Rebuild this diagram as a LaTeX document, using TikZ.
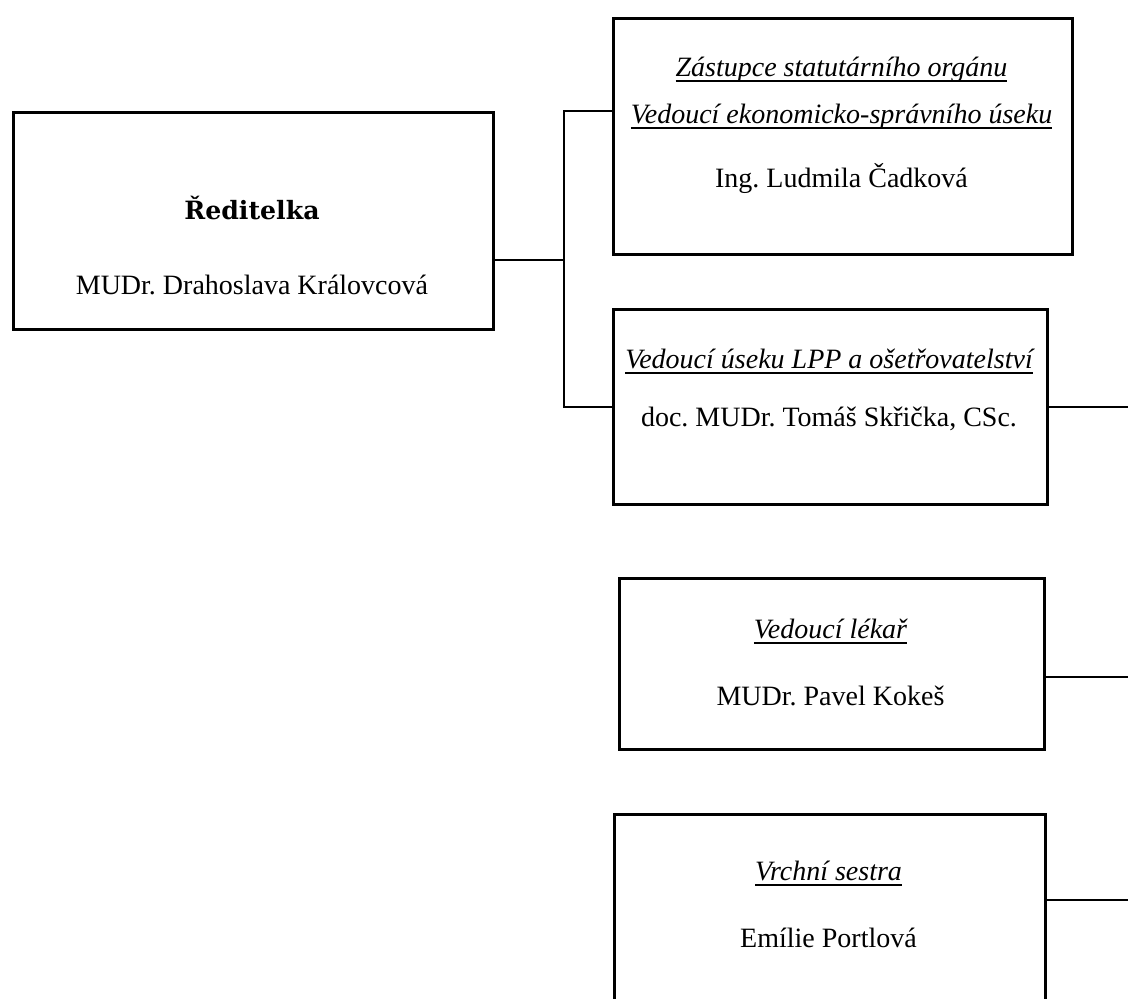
\documentclass[tikz,border=0pt]{standalone}
\usepackage{fontspec}
\setmainfont{Liberation Serif}
\newfontfamily\headfont{DejaVu Serif}
\frenchspacing
\newcommand\underrule[1]{\setbox0\hbox{#1}\rlap{\vrule height -2.1pt depth 2.8pt width \wd0}\box0}
\tikzset{
    post/.style={draw, line width=1.25pt, anchor=north west, inner sep=0pt},
    link/.style={line width=0.95pt},
    person/.style={anchor=base, inner sep=0pt, font=\fontsize{14}{16}\selectfont},
    role/.style={anchor=base, inner sep=0pt, font=\fontsize{14}{16}\selectfont\itshape},
}
\begin{document}
\begin{tikzpicture}[x=0.5pt,y=-0.5pt]
        \path[use as bounding box, clip] (0,0) rectangle (1128,998);

        \node[post, minimum width=240pt, minimum height=108.5pt] (reditel) at (12,111) {};
        \node[post, minimum width=229.5pt, minimum height=118pt] (zastupce) at (612,17) {};
        \node[post, minimum width=217pt, minimum height=97.5pt] (lpp) at (612,308) {};
        \node[post, minimum width=212.5pt, minimum height=85.5pt] (lekar) at (618,577) {};
        \node[post, minimum width=215.5pt, minimum height=110pt] (sestra) at (613,813) {};

        \node[anchor=base, inner sep=0pt, font=\headfont\bfseries\fontsize{12.6}{14}\selectfont] (reditelTitle) at (252,219) {Ředitelka};
        \node[person] (reditelName) at (252,294) {MUDr. Drahoslava Královcová};

        \node[role] (zastupceRole) at (841.5,76) {\underrule{Zástupce statutárního orgánu}};
        \node[role] (zastupceRole2) at (841.5,123) {\underrule{Vedoucí ekonomicko-správního úseku}};
        \node[person] (zastupceName) at (841.5,187) {Ing. Ludmila Čadková};

        \node[role] (lppRole) at (829,368) {\underrule{Vedoucí úseku LPP a ošetřovatelství}};
        \node[person] (lppName) at (829,426) {doc. MUDr. Tomáš Skřička, CSc.};

        \node[role] (lekarRole) at (830.5,638) {\underrule{Vedoucí lékař}};
        \node[person] (lekarName) at (830.5,705) {MUDr. Pavel Kokeš};

        \node[role] (sestraRole) at (828.5,880) {\underrule{Vrchní sestra}};
        \node[person] (sestraName) at (828.5,947) {Emílie Portlová};

        \coordinate (j0) at (564,260);
        \coordinate (j1) at (564,111);
        \coordinate (j2) at (564,407);
        \coordinate (e2) at (1128,407);
        \coordinate (e3) at (1128,677);
        \coordinate (e4) at (1128,900);

        \draw[link] (reditel.east |- j0) -- (j0);
        \draw[link] (zastupce.west |- j1) -- (j1) -- (j2) -- (lpp.west |- j2);
        \draw[link] (lpp.east |- e2) -- (e2);
        \draw[link] (lekar.east |- e3) -- (e3);
        \draw[link] (sestra.east |- e4) -- (e4);
    \end{tikzpicture}
\end{document}
